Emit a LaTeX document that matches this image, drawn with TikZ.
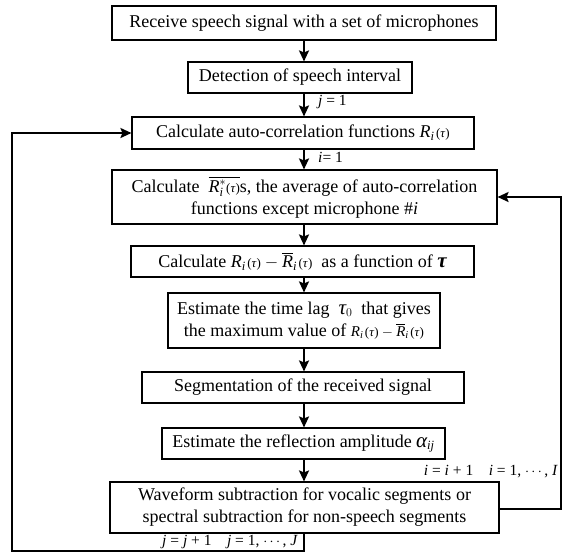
\documentclass[tikz,border=0pt]{standalone}
\usepackage{amsmath}
\usepackage{fontspec}
\setmainfont{Liberation Serif}
\usetikzlibrary{arrows.meta}
\newcommand{\vi}[1]{\text{\itshape #1}}
\newcommand{\tauarg}{\text{\fontsize{13}{14}\selectfont(\textit{τ})}}
\newcommand{\Rt}{\vi{R}_{\vi{i}}\kern1.5pt\tauarg}
\newcommand{\Rbt}{\overline{\vi{R}}_{\vi{i}}\kern1.5pt\tauarg}
\begin{document}
\begin{tikzpicture}[x=1pt,y=-1pt,
  font=\fontsize{18}{22}\selectfont,
  box/.style={draw, line width=1.1pt, rectangle, inner sep=0pt, align=center},
  conn/.style={line width=2pt, -{Stealth[length=11pt,width=10pt,inset=2pt]}},
  lab/.style={inner sep=0pt, font=\fontsize{15.5}{18}\selectfont}]
\useasboundingbox (0,0) rectangle (571,555);
\coordinate (ax) at (304,0);
\coordinate (ll) at (12,551);
\coordinate (rr) at (561,509);

\node[box, minimum width=384pt, minimum height=34pt] (b1) at (304,23) {Receive speech signal with a set of microphones};
\node[box, minimum width=224pt, minimum height=31pt] (b2) at (300,77.5) {Detection of speech interval};
\node[box, minimum width=342pt, minimum height=32pt] (b3) at (303,133) {Calculate auto-correlation functions $\Rt$};
\node[box, minimum width=385pt, minimum height=54pt] (b4) at (304.5,197) {Calculate \ $\overline{\vi{R}^{*}_{\vi{i}}\tauarg}$s, the average of auto-correlation\\functions except microphone \#\textit{i}};
\node[box, minimum width=343pt, minimum height=31pt] (b5) at (302.5,261.5) {Calculate $\Rt - \Rbt$ \ as a function of \text{\fontsize{21}{22}\selectfont\bfseries\itshape τ}};
\node[box, minimum width=272pt, minimum height=55pt] (b6) at (304,320.5) {Estimate the time lag \ $\text{\fontsize{21}{22}\selectfont\itshape τ}_{0}$ \ that gives\\the maximum value of {\fontsize{15}{18}\selectfont$\Rt - \Rbt$}};
\node[box, minimum width=322pt, minimum height=31pt] (b7) at (303,387.5) {Segmentation of the received signal};
\node[box, minimum width=283pt, minimum height=31pt] (b8) at (303.5,443.5) {Estimate the reflection amplitude $\text{\fontsize{21}{22}\selectfont\itshape α}_{\vi{ij}}$};
\node[box, minimum width=389pt, minimum height=51pt, align=center] (b9) at (304.5,507.5) {Waveform subtraction for vocalic segments or\\spectral subtraction for non-speech segments};

\draw[conn] (b1.south -| ax) -- (b2.north -| ax);
\draw[conn] (b2.south -| ax) -- (b3.north -| ax);
\draw[conn] (b3.south -| ax) -- (b4.north -| ax);
\draw[conn] (b4.south -| ax) -- (b5.north -| ax);
\draw[conn] (b5.south -| ax) -- (b6.north -| ax);
\draw[conn] (b6.south -| ax) -- (b7.north -| ax);
\draw[conn] (b7.south -| ax) -- (b8.north -| ax);
\draw[conn] (b8.south -| ax) -- (b9.north -| ax);
\draw[conn] (b9.south -| ax) -- (ax |- ll) -- (ll) |- (b3.west);
\draw[conn] (b9.east |- rr) -- (rr) |- (b4.east);

\node[lab, anchor=west] (l1) at (318,102) {\textit{j} = 1};
\node[lab, anchor=west] (l2) at (318,157) {\textit{i}= 1};
\node[lab, anchor=east] (l3) at (558,472) {\textit{i} = \textit{i} + 1\quad \textit{i} = 1, $\cdots$, \textit{I}};
\node[lab, anchor=east] (l4) at (298,542) {\textit{j} = \textit{j} + 1\quad \textit{j} = 1, $\cdots$, \textit{J}};
\end{tikzpicture}
\end{document}
